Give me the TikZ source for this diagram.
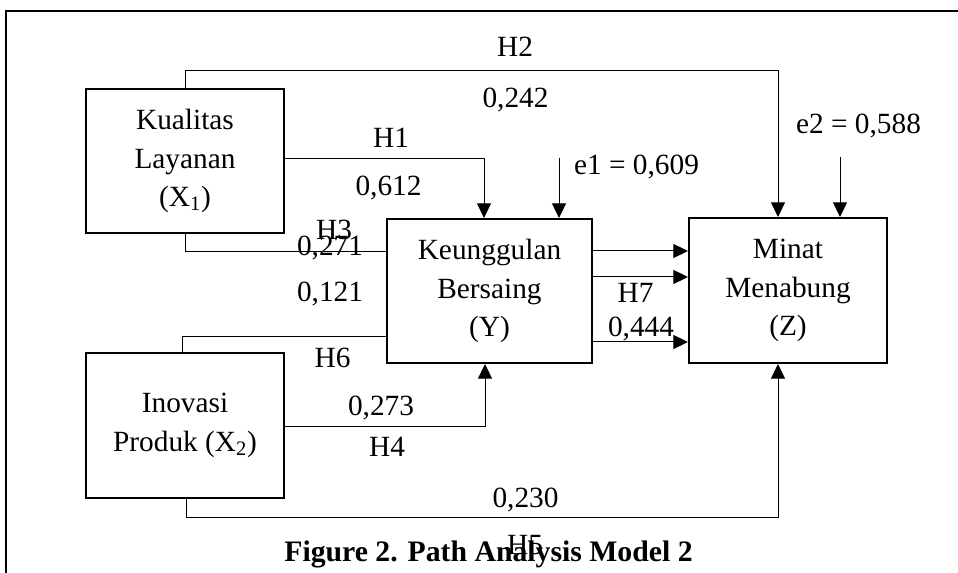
\documentclass[tikz,border=0pt]{standalone}
\usepackage{fontspec}
\setmainfont{Liberation Serif}
\usetikzlibrary{arrows.meta}
\begin{document}
\begin{tikzpicture}[x=0.75pt,y=-0.75pt,
  box/.style={draw,line width=1.5pt,align=center,inner sep=0pt,
    font=\fontsize{22}{28.9}\selectfont},
  conn/.style={line width=0.75pt},
  arr/.style={line width=0.75pt,-{Triangle[length=11pt,width=10.5pt]}},
  lbl/.style={anchor=base,inner sep=0pt,font=\fontsize{22}{26}\selectfont}]
\useasboundingbox (0,0) rectangle (958,573);
% frame
\draw[line width=1.5pt] (6,573) -- (6,11) -- (958,11);
% boxes
\node[box,minimum width=148.5pt,minimum height=108pt] (x1) at (185,161) {Kualitas\\Layanan\\(X\textsubscript{1})};
\node[box,minimum width=148.5pt,minimum height=108.75pt] (x2) at (185,425.5) {Inovasi\\Produk (X\textsubscript{2})};
\node[box,minimum width=153.75pt,minimum height=108pt] (y) at (489.5,291) {Keunggulan\\Bersaing\\(Y)};
\node[box,minimum width=148.5pt,minimum height=108.75pt] (z) at (788,290.5) {Minat\\Menabung\\(Z)};
% coordinates
\coordinate (e1s) at (559,158);
\coordinate (e2s) at (840,157);
% connectors
\draw[arr] (x1.north) |- (778,71) -- (778,0 |- z.north);
\draw[arr] (x1.east |- 0,159) -| (484,0 |- y.north);
\draw[arr] (e1s) -- (e1s |- y.north);
\draw[arr] (e2s) -- (e2s |- z.north);
\draw[conn] (x1.south) |- (y.west |- 0,252);
\draw[conn] (182,0 |- x2.north) |- (y.west |- 0,337);
\draw[arr] (x2.east |- 0,427) -| (485,0 |- y.south);
\draw[arr] (186,0 |- x2.south) |- (778,518) -- (778,0 |- z.south);
\draw[arr] (y.east |- 0,251) -- (z.west |- 0,251);
\draw[arr] (y.east |- 0,277) -- (z.west |- 0,277);
\draw[arr] (y.east |- 0,342) -- (z.west |- 0,342);
% labels
\node[lbl] (lh2) at (515,57) {H2};
\node[lbl] (l242) at (515.5,108) {0,242};
\node[lbl] (lh1) at (391,148) {H1};
\node[lbl] (l612) at (388.5,196) {0,612};
\node[lbl] (lh3) at (334,240) {H3};
\node[lbl] (l271) at (330,256) {0,271};
\node[lbl] (l121) at (330,302) {0,121};
\node[lbl] (lh6) at (332.5,368) {H6};
\node[lbl] (l273) at (381,416) {0,273};
\node[lbl] (lh4) at (387,457) {H4};
\node[lbl] (le1) at (636.5,175) {e1 = 0,609};
\node[lbl] (le2) at (858.5,134) {e2 = 0,588};
\node[lbl] (lh7) at (635.5,303) {H7};
\node[lbl] (l444) at (641,337) {0,444};
\node[lbl] (l230) at (525.5,508) {0,230};
% caption
\node[anchor=base,inner sep=0pt,font=\bfseries\fontsize{22.3}{26}\selectfont] (cap) at (488.5,562) {Figure 2. Path Analysis Model 2};
\node[lbl] (lh5) at (525,555) {H5};
\end{tikzpicture}
\end{document}
